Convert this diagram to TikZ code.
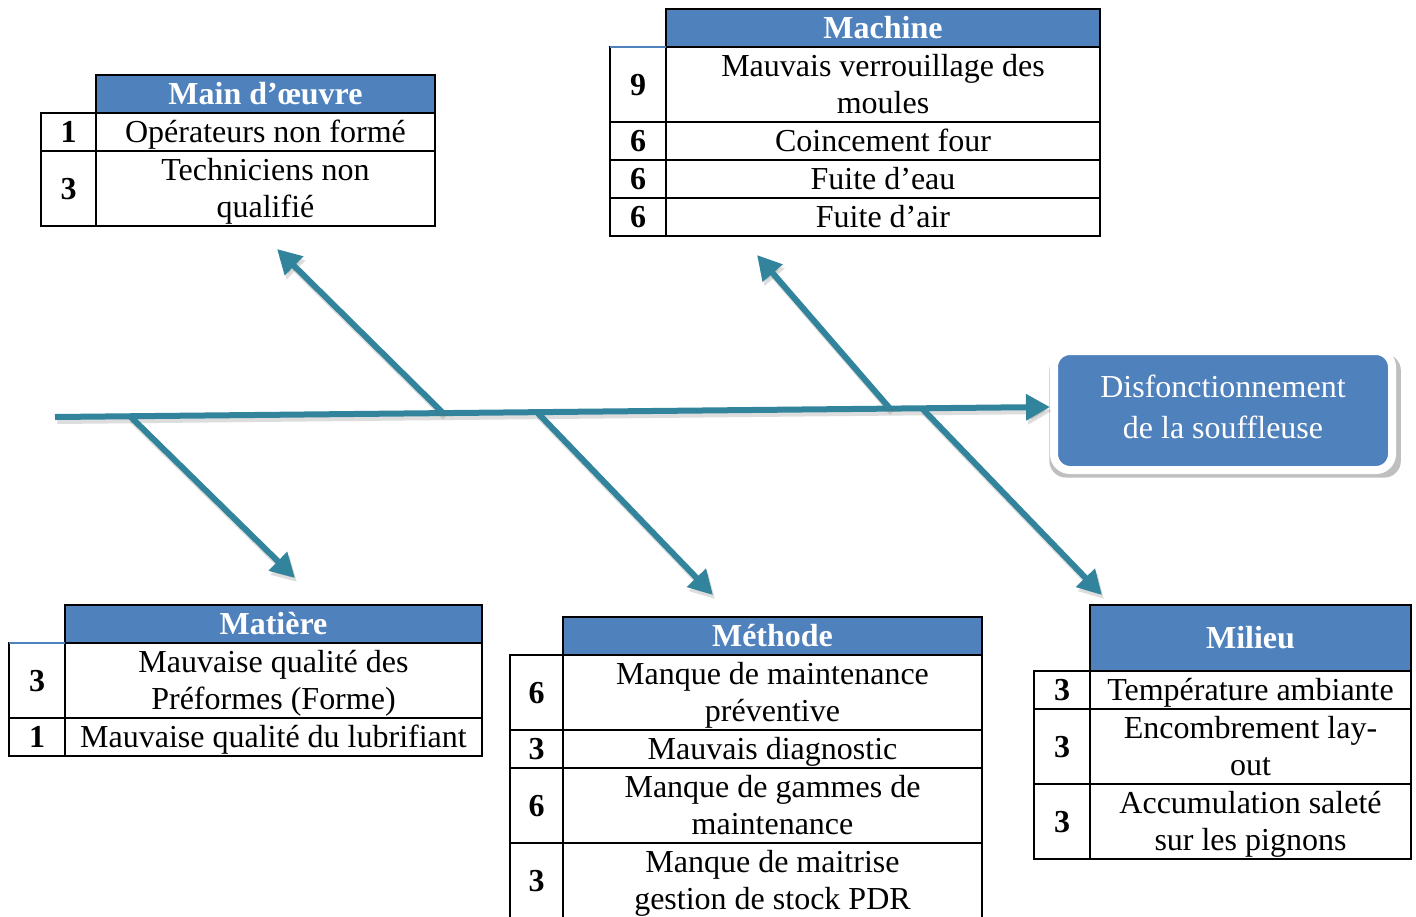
\documentclass[tikz,border=0pt]{standalone}
\usepackage{fontspec}
\setmainfont{Liberation Serif}
\usetikzlibrary{arrows.meta,shadows}
\definecolor{bonecol}{RGB}{49,132,155}
\definecolor{hblue}{RGB}{79,129,189}
% fixed-height struts so every line of a cell sits on the same grid
\newcommand\cellstrut{\rule[-8pt]{0pt}{37pt}}
\newcommand\boxstrut{\rule[-13pt]{0pt}{41pt}}
\tikzset{
  cell/.style={draw=black, line width=2pt, inner sep=0pt, outer sep=0pt,
    align=center, font=\fontsize{32}{37}\selectfont, minimum height=38pt},
  num/.style={cell, font=\fontsize{32}{37}\selectfont\bfseries},
  head/.style={cell, fill=hblue, text=white, font=\fontsize{32}{37}\selectfont\bfseries},
  tall/.style={minimum height=75pt},
  bone/.style={draw=bonecol, line width=6pt,
    -{Triangle[length=24pt,width=25pt]}},
  boneshadow/.style={draw=black!60, opacity=0.22, line width=6pt,
    -{Triangle[length=24pt,width=25pt]}},
  effectbox/.style={fill=hblue, draw=white, line width=8pt, rounded corners=16pt,
    minimum width=338pt, minimum height=119pt, inner sep=0pt, align=center,
    text=white, font=\fontsize{32}{41}\selectfont,
    drop shadow={shadow xshift=2pt, shadow yshift=-5pt, shadow scale=1.04,
      fill=black, opacity=0.25}},
}
\newcommand\bonedraw[2]{%
  \draw[boneshadow] ([shift={(2,4)}]#1) -- ([shift={(2,4)}]#2);
  \draw[bone] (#1) -- (#2);}
\begin{document}
\begin{tikzpicture}[x=1pt,y=-1pt]
\fill[white] (0,0) rectangle (1416,916);
\useasboundingbox (0,0) rectangle (1416,916);

% effect box
\node[effectbox] (effect) at (1223,410.5)
  {\boxstrut Disfonctionnement\\\boxstrut de la souffleuse};

% spine and branch points
\coordinate (s0) at (55,417);
\coordinate (s1) at (1050,407);
\coordinate (rMd) at (443,413);
\coordinate (rMc) at (890,408.6);
\coordinate (rMt) at (130,416.2);
\coordinate (rMe) at (537,412.2);
\coordinate (rMi) at (922,408.3);
\coordinate (tMd) at (277,249);
\coordinate (tMc) at (757,255);
\coordinate (tMt) at (295,578);
\coordinate (tMe) at (713,595);
\coordinate (tMi) at (1102,595);

\bonedraw{s0}{s1}
\bonedraw{rMd}{tMd}
\bonedraw{rMc}{tMc}
\bonedraw{rMt}{tMt}
\bonedraw{rMe}{tMe}
\bonedraw{rMi}{tMi}

% Main d'oeuvre
\node[head, minimum width=339pt] (mdH) at (265.5,94) {\cellstrut Main d’œuvre};
\node[num, minimum width=55pt] (mdN1) at (68.5,132) {\cellstrut 1};
\node[cell, minimum width=339pt] (mdT1) at (265.5,132) {\cellstrut Opérateurs non formé};
\node[num, tall, minimum width=55pt] (mdN2) at (68.5,188.5) {\cellstrut 3};
\node[cell, tall, minimum width=339pt] (mdT2) at (265.5,188.5) {\cellstrut Techniciens non\\\cellstrut qualifié};

% Machine
\node[head, minimum width=434pt] (mcH) at (883,28) {\cellstrut Machine};
\node[num, tall, minimum width=56pt] (mcN1) at (638,84.5) {\cellstrut 9};
\node[cell, tall, minimum width=434pt] (mcT1) at (883,84.5) {\cellstrut Mauvais verrouillage des\\\cellstrut moules};
\node[num, minimum width=56pt] (mcN2) at (638,141) {\cellstrut 6};
\node[cell, minimum width=434pt] (mcT2) at (883,141) {\cellstrut Coincement four};
\node[num, minimum width=56pt] (mcN3) at (638,179) {\cellstrut 6};
\node[cell, minimum width=434pt] (mcT3) at (883,179) {\cellstrut Fuite d’eau};
\node[num, minimum width=56pt] (mcN4) at (638,217) {\cellstrut 6};
\node[cell, minimum width=434pt] (mcT4) at (883,217) {\cellstrut Fuite d’air};
\draw[hblue, line width=2pt] (mcN1.north west) -- (mcN1.north east);

% Matiere
\node[head, minimum width=417pt] (mtH) at (273.5,624) {\cellstrut Matière};
\node[num, tall, minimum width=56pt] (mtN1) at (37,680.5) {\cellstrut 3};
\node[cell, tall, minimum width=417pt] (mtT1) at (273.5,680.5) {\cellstrut Mauvaise qualité des\\\cellstrut Préformes (Forme)};
\node[num, minimum width=56pt] (mtN2) at (37,737) {\cellstrut 1};
\node[cell, minimum width=417pt] (mtT2) at (273.5,737) {\cellstrut Mauvaise qualité du lubrifiant};
\draw[hblue, line width=2pt] (mtN1.north west) -- (mtN1.north east);

% Methode
\node[head, minimum width=419pt] (meH) at (772.5,636) {\cellstrut Méthode};
\node[num, tall, minimum width=53pt] (meN1) at (536.5,692.5) {\cellstrut 6};
\node[cell, tall, minimum width=419pt] (meT1) at (772.5,692.5) {\cellstrut Manque de maintenance\\\cellstrut préventive};
\node[num, minimum width=53pt] (meN2) at (536.5,749) {\cellstrut 3};
\node[cell, minimum width=419pt] (meT2) at (772.5,749) {\cellstrut Mauvais diagnostic};
\node[num, tall, minimum width=53pt] (meN3) at (536.5,805.5) {\cellstrut 6};
\node[cell, tall, minimum width=419pt] (meT3) at (772.5,805.5) {\cellstrut Manque de gammes de\\\cellstrut maintenance};
\node[num, tall, minimum width=53pt] (meN4) at (536.5,880.5) {\cellstrut 3};
\node[cell, tall, minimum width=419pt] (meT4) at (772.5,880.5) {\cellstrut Manque de maitrise\\\cellstrut gestion de stock PDR};

% Milieu
\node[head, minimum width=321pt, minimum height=66pt] (miH) at (1250.5,638) {\cellstrut Milieu};
\node[num, minimum width=56pt] (miN1) at (1062,690) {\cellstrut 3};
\node[cell, minimum width=321pt] (miT1) at (1250.5,690) {\cellstrut Température ambiante};
\node[num, tall, minimum width=56pt] (miN2) at (1062,746.5) {\cellstrut 3};
\node[cell, tall, minimum width=321pt] (miT2) at (1250.5,746.5) {\cellstrut Encombrement lay-\\\cellstrut out};
\node[num, tall, minimum width=56pt] (miN3) at (1062,821.5) {\cellstrut 3};
\node[cell, tall, minimum width=321pt] (miT3) at (1250.5,821.5) {\cellstrut Accumulation saleté\\\cellstrut sur les pignons};
\end{tikzpicture}
\end{document}
